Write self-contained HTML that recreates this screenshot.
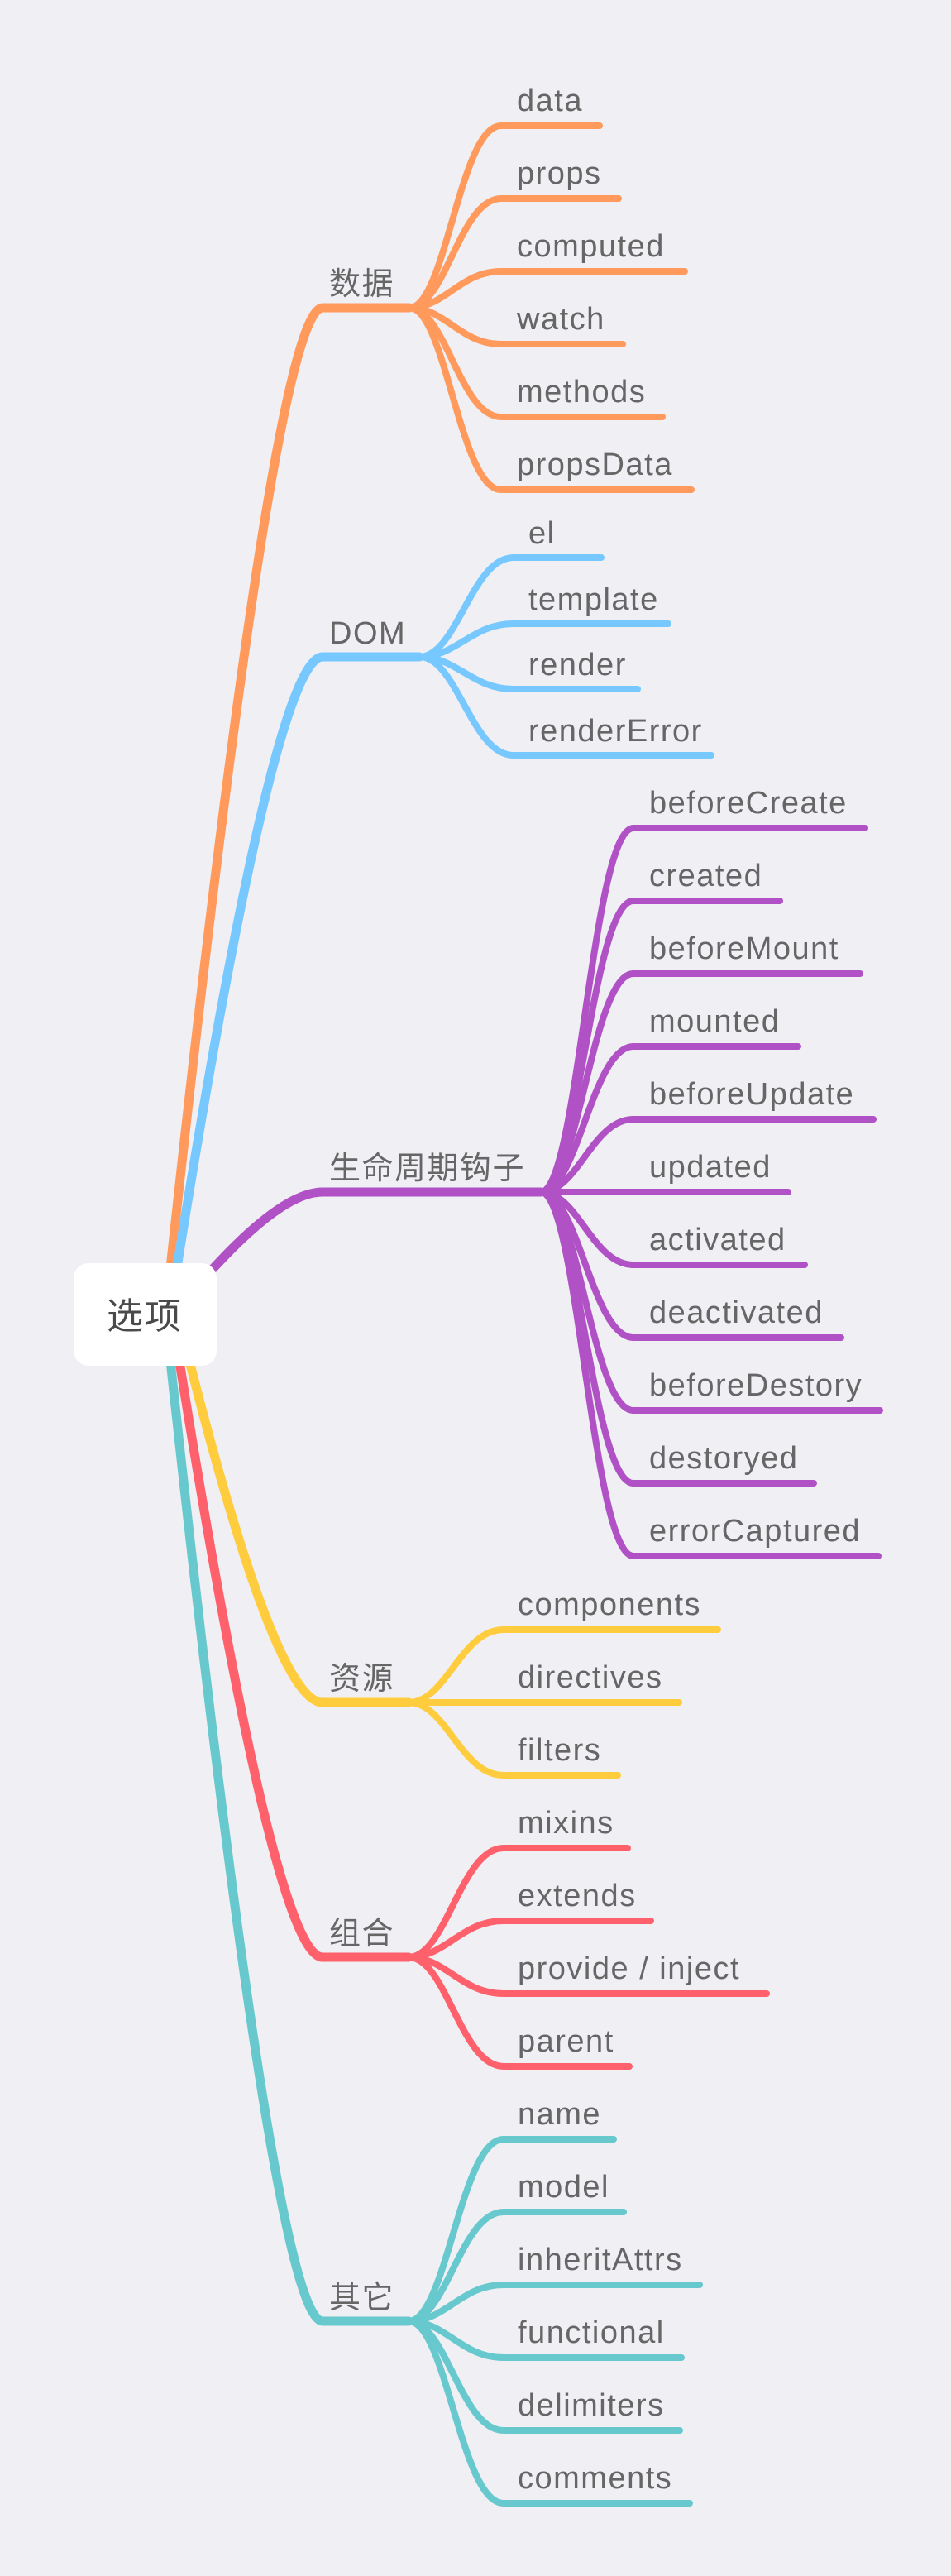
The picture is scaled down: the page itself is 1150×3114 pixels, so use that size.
<!DOCTYPE html>
<html><head><meta charset="utf-8"><style>
html,body{margin:0;padding:0;background:#EFEFF4;}
svg{display:block}
text{font-family:"Liberation Sans","Noto Sans CJK SC",sans-serif;fill:#666;font-size:38px;letter-spacing:1.5px}
.m{fill:none;stroke-width:11;stroke-linecap:round;stroke-linejoin:round}
.c{fill:none;stroke-width:8;stroke-linecap:round;stroke-linejoin:round}
</style></head><body>
<svg width="1150" height="3114" viewBox="0 0 1150 3114" xmlns="http://www.w3.org/2000/svg">
<rect width="1150" height="3114" fill="#EFEFF4"/>
<path class="m" stroke="#FF9A5C" d="M200 1589 Q330 372 390 372 H495"/>
<path class="m" stroke="#76C8FF" d="M205 1589 Q330 794 390 794 H507"/>
<path class="m" stroke="#B052C6" d="M210 1589 Q330 1441 390 1441 H654"/>
<path class="m" stroke="#FFCC3D" d="M215 1589 Q330 2058 390 2058 H494"/>
<path class="m" stroke="#FF616C" d="M208 1589 Q330 2366 390 2366 H494"/>
<path class="m" stroke="#67C9CD" d="M200 1589 Q330 2806 390 2806 H494"/>

<g stroke="#FF9A5C">
<path class="c" d="M495 372 C539 372 556 152 606 152 H725"/>
<path class="c" d="M495 372 C539 372 556 240 606 240 H748"/>
<path class="c" d="M495 372 C539 372 556 328 606 328 H828"/>
<path class="c" d="M495 372 C539 372 556 416 606 416 H753"/>
<path class="c" d="M495 372 C539 372 556 504 606 504 H801"/>
<path class="c" d="M495 372 C539 372 556 592 606 592 H836"/>
</g>
<text x="398" y="356">数据</text>
<text x="625" y="134">data</text>
<text x="625" y="222">props</text>
<text x="625" y="310">computed</text>
<text x="625" y="398">watch</text>
<text x="625" y="486">methods</text>
<text x="625" y="574">propsData</text>

<g stroke="#76C8FF">
<path class="c" d="M507 794 C553 794 570 674 621 674 H727"/>
<path class="c" d="M507 794 C553 794 570 754 621 754 H808"/>
<path class="c" d="M507 794 C553 794 570 833 621 833 H771"/>
<path class="c" d="M507 794 C553 794 570 913 621 913 H860"/>
</g>
<text x="398" y="778">DOM</text>
<text x="639" y="657">el</text>
<text x="639" y="737">template</text>
<text x="639" y="816">render</text>
<text x="639" y="896">renderError</text>

<g stroke="#B052C6">
<path class="c" d="M654 1441 C699 1441 716 1001 766 1001 H1046"/>
<path class="c" d="M654 1441 C699 1441 716 1089 766 1089 H943"/>
<path class="c" d="M654 1441 C699 1441 716 1177 766 1177 H1040"/>
<path class="c" d="M654 1441 C699 1441 716 1265 766 1265 H965"/>
<path class="c" d="M654 1441 C699 1441 716 1353 766 1353 H1056"/>
<path class="c" d="M654 1441 H953"/>
<path class="c" d="M654 1441 C699 1441 716 1529 766 1529 H973"/>
<path class="c" d="M654 1441 C699 1441 716 1617 766 1617 H1017"/>
<path class="c" d="M654 1441 C699 1441 716 1705 766 1705 H1064"/>
<path class="c" d="M654 1441 C699 1441 716 1793 766 1793 H984"/>
<path class="c" d="M654 1441 C699 1441 716 1881 766 1881 H1062"/>
</g>
<text x="398" y="1425">生命周期钩子</text>
<text x="785" y="983">beforeCreate</text>
<text x="785" y="1071">created</text>
<text x="785" y="1159">beforeMount</text>
<text x="785" y="1247">mounted</text>
<text x="785" y="1335">beforeUpdate</text>
<text x="785" y="1423">updated</text>
<text x="785" y="1511">activated</text>
<text x="785" y="1599">deactivated</text>
<text x="785" y="1687">beforeDestory</text>
<text x="785" y="1775">destoryed</text>
<text x="785" y="1863">errorCaptured</text>

<g stroke="#FFCC3D">
<path class="c" d="M494 2058 C540 2058 557 1970 609 1970 H868"/>
<path class="c" d="M494 2058 H821"/>
<path class="c" d="M494 2058 C540 2058 557 2146 609 2146 H747"/>
</g>
<text x="398" y="2042">资源</text>
<text x="626" y="1952">components</text>
<text x="626" y="2040">directives</text>
<text x="626" y="2128">filters</text>

<g stroke="#FF616C">
<path class="c" d="M494 2366 C540 2366 557 2234 609 2234 H759"/>
<path class="c" d="M494 2366 C540 2366 557 2322 609 2322 H787"/>
<path class="c" d="M494 2366 C540 2366 557 2410 609 2410 H927"/>
<path class="c" d="M494 2366 C540 2366 557 2498 609 2498 H761"/>
</g>
<text x="398" y="2350">组合</text>
<text x="626" y="2216">mixins</text>
<text x="626" y="2304">extends</text>
<text x="626" y="2392">provide / inject</text>
<text x="626" y="2480">parent</text>

<g stroke="#67C9CD">
<path class="c" d="M494 2806 C540 2806 557 2586 609 2586 H742"/>
<path class="c" d="M494 2806 C540 2806 557 2674 609 2674 H754"/>
<path class="c" d="M494 2806 C540 2806 557 2762 609 2762 H846"/>
<path class="c" d="M494 2806 C540 2806 557 2850 609 2850 H824"/>
<path class="c" d="M494 2806 C540 2806 557 2938 609 2938 H822"/>
<path class="c" d="M494 2806 C540 2806 557 3026 609 3026 H834"/>
</g>
<text x="398" y="2790">其它</text>
<text x="626" y="2568">name</text>
<text x="626" y="2656">model</text>
<text x="626" y="2744">inheritAttrs</text>
<text x="626" y="2832">functional</text>
<text x="626" y="2920">delimiters</text>
<text x="626" y="3008">comments</text>

<rect x="89" y="1527" width="173" height="124" rx="18" ry="18" fill="#fff"/>
<text x="175" y="1606" text-anchor="middle" style="font-size:44px;letter-spacing:2px;fill:#4a4a4a">选项</text>
</svg>
</body></html>
